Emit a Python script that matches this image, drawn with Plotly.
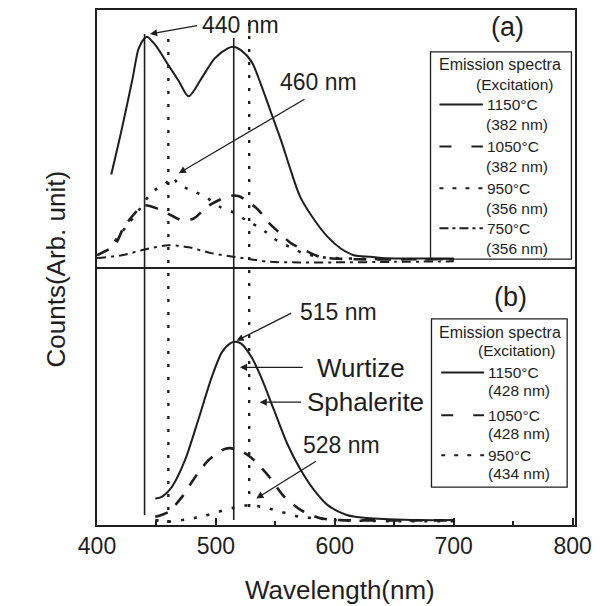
import plotly.graph_objects as go

# ---------------- data ----------------
# Panel (a) emission spectra
wl_a_1150 = [412, 421, 430, 435, 440, 442, 449, 460, 469, 477, 488, 499, 510, 515, 521, 530, 538, 546, 555, 563, 571, 583, 594, 605, 616, 630, 644, 672, 700]
a_1150 = [36, 54, 73.5, 85, 89, 89.6, 86.4, 78.6, 72.2, 66.4, 73.5, 81.2, 85.1, 85.7, 84.4, 79.9, 70.9, 60.6, 49, 37.5, 27.2, 18.2, 11.7, 7.2, 4.6, 4.0, 3.4, 3.3, 3.3]

wl_a_1050 = [400, 415, 422, 434, 440, 451, 460, 470, 481, 492, 499, 510, 515, 520, 533, 538, 545, 553, 563, 573, 587, 596, 620, 660, 700]
a_1050 = [4.6, 8.5, 15, 22, 24, 22.7, 20.7, 18.4, 18.8, 23.3, 25.2, 27.5, 27.8, 27.4, 23.3, 21, 17, 13.5, 9.3, 6.9, 4.0, 3.4, 3.0, 3.0, 3.0]

wl_a_950 = [415, 425, 435, 446, 458, 463, 469, 481, 492, 503, 516, 526, 538, 549, 562, 574, 590, 620, 660, 700]
a_950 = [10, 16, 22, 29, 32.5, 35, 32, 29.5, 27, 23.5, 21, 18, 15, 11, 7.8, 5.3, 3.8, 3.2, 3.0, 3.0]

wl_a_750 = [400, 421, 441, 460, 477, 496, 516, 533, 546, 570, 600, 650, 700]
a_750 = [3.5, 4.6, 6.9, 8.5, 7.7, 5.4, 3.9, 2.7, 2.0, 1.8, 1.8, 2.0, 2.2]

# Panel (b) emission spectra
wl_b_1150 = [449, 453.5, 463, 474, 485, 496.5, 505, 512, 516, 521.5, 530, 538, 549, 560, 571.5, 582.6, 594, 610, 630, 672, 700]
b_1150 = [10.3, 10.7, 14.8, 25.1, 40.5, 57.3, 66.9, 70.4, 71, 70.2, 65, 57.3, 44.4, 31.5, 21.2, 13.5, 7.7, 3.9, 2.6, 1.9, 1.9]

wl_b_1050 = [449, 460, 471.5, 482.6, 493.75, 505, 511, 520, 530, 545, 557.6, 571.5, 588, 605, 650, 700]
b_1050 = [3.2, 5.1, 10.9, 18.6, 25.1, 29, 29.8, 29, 26, 18.6, 10.9, 5.8, 2.6, 1.9, 1.8, 1.8]

wl_b_950 = [449, 460, 476, 490, 502, 516, 529, 544, 555, 570, 585, 602, 650, 700]
b_950 = [1.9, 1.3, 2.2, 3.5, 5.1, 6.8, 7.7, 6.4, 5.1, 3.2, 2.6, 1.9, 1.5, 1.5]

# Legend labels
legend_a_temps = ["1150°C", "1050°C", "950°C", "750°C"]
legend_a_exc = ["(382 nm)", "(382 nm)", "(356 nm)", "(356 nm)"]
legend_b_temps = ["1150°C", "1050°C", "950°C"]
legend_b_exc = ["(428 nm)", "(428 nm)", "(434 nm)"]

# Reference wavelengths (vertical marker lines)
ref_solid = [440, 515]
ref_dotted = [460, 528]

x_ticks = [400, 500, 600, 700, 800]

# ---------------- styling ----------------
INK = "#1e1e1e"
FONT = "Liberation Sans, Arial, sans-serif"
LEG = 15.5
curve_style = {
    "1150°C": dict(dash="solid", width=2.0),
    "1050°C": dict(dash="13px,11px", width=2.6),
    "950°C": dict(dash="3px,10px", width=2.6),
    "750°C": dict(dash="9px,5px,3px,5px", width=2.0),
}
sample_dash = {
    "1150°C": "solid",
    "1050°C": "12px,20px",
    "950°C": "4px,9px",
    "750°C": "9px,4px,3px,4px",
}

fig = go.Figure()

series_a = [(legend_a_temps[0], wl_a_1150, a_1150), (legend_a_temps[1], wl_a_1050, a_1050),
            (legend_a_temps[2], wl_a_950, a_950), (legend_a_temps[3], wl_a_750, a_750)]
series_b = [(legend_b_temps[0], wl_b_1150, b_1150), (legend_b_temps[1], wl_b_1050, b_1050),
            (legend_b_temps[2], wl_b_950, b_950)]

for name, xs, ys in series_a:
    fig.add_trace(go.Scatter(x=xs, y=ys, mode="lines", name=name, showlegend=False,
                             line=dict(color=INK, shape="spline", smoothing=0.8, **curve_style[name]),
                             xaxis="x", yaxis="y"))
for name, xs, ys in series_b:
    fig.add_trace(go.Scatter(x=xs, y=ys, mode="lines", name=name, showlegend=False,
                             line=dict(color=INK, shape="spline", smoothing=0.8, **curve_style[name]),
                             xaxis="x2", yaxis="y2"))

# ---------------- layout geometry ----------------
H = 606
TOP, BOT = 8, 525          # plot area in px
MID = 266                  # divider in px


def pp(py):
    """pixel y -> paper y"""
    return (BOT - py) / (BOT - TOP)


split = pp(MID)

shapes = []
# vertical reference lines spanning both panels
ref_extent = {440: (32, 515), 515: (36, 520), 460: (32, 523), 528: (19, 507)}
for w in ref_solid:
    t, b = ref_extent[w]
    shapes.append(dict(type="line", xref="x", yref="paper", x0=w, x1=w, y0=pp(b), y1=pp(t),
                       line=dict(color=INK, width=1.6)))
for w in ref_dotted:
    t, b = ref_extent[w]
    shapes.append(dict(type="line", xref="x", yref="paper", x0=w, x1=w, y0=pp(b), y1=pp(t),
                       line=dict(color=INK, width=2.4, dash="3px,10px")))

annotations = []

# ---- legend (a) ----
shapes.append(dict(type="rect", xref="x", yref="y", x0=680.5, x1=799.0, y0=3.1, y1=83.7,
                   line=dict(color=INK, width=1.3), fillcolor="rgba(255,255,255,0)"))
annotations.append(dict(x=739, y=78.7, xref="x", yref="y", text="Emission spectra", showarrow=False,
                        font=dict(size=16, color=INK, family=FONT), xanchor="center", yanchor="middle"))
annotations.append(dict(x=786, y=70.9, xref="x", yref="y", text="(Excitation)", showarrow=False,
                        font=dict(size=LEG, color=INK, family=FONT), xanchor="right", yanchor="middle"))
rows_a = [63.2, 46.9, 30.6, 15.1]
for i, (t, e) in enumerate(zip(legend_a_temps, legend_a_exc)):
    yv = rows_a[i]
    shapes.append(dict(type="line", xref="x", yref="y", x0=688, x1=724.5, y0=yv, y1=yv,
                       line=dict(color=INK, width=2, dash=sample_dash[t])))
    annotations.append(dict(x=726, y=yv, xref="x", yref="y", text=t, showarrow=False,
                            font=dict(size=LEG, color=INK, family=FONT), xanchor="left", yanchor="middle"))
    annotations.append(dict(x=725.5, y=yv - 7.8, xref="x", yref="y", text=e, showarrow=False,
                            font=dict(size=LEG, color=INK, family=FONT), xanchor="left", yanchor="middle"))

# ---- legend (b) ----
shapes.append(dict(type="rect", xref="x2", yref="y2", x0=681.3, x1=795.4, y0=14.7, y1=79.9,
                   line=dict(color=INK, width=1.3), fillcolor="rgba(255,255,255,0)"))
annotations.append(dict(x=739, y=74.5, xref="x2", yref="y2", text="Emission spectra", showarrow=False,
                        font=dict(size=16, color=INK, family=FONT), xanchor="center", yanchor="middle"))
annotations.append(dict(x=787.5, y=67.6, xref="x2", yref="y2", text="(Excitation)", showarrow=False,
                        font=dict(size=LEG, color=INK, family=FONT), xanchor="right", yanchor="middle"))
rows_b = [59.1, 42.5, 27.0]
for i, (t, e) in enumerate(zip(legend_b_temps, legend_b_exc)):
    yv = rows_b[i]
    shapes.append(dict(type="line", xref="x2", yref="y2", x0=689.5, x1=725.5, y0=yv, y1=yv,
                       line=dict(color=INK, width=2, dash=sample_dash[t])))
    annotations.append(dict(x=727, y=yv, xref="x2", yref="y2", text=t, showarrow=False,
                            font=dict(size=LEG, color=INK, family=FONT), xanchor="left", yanchor="middle"))
    annotations.append(dict(x=727, y=yv - 7.0, xref="x2", yref="y2", text=e, showarrow=False,
                            font=dict(size=LEG, color=INK, family=FONT), xanchor="left", yanchor="middle"))

# ---- panel labels ----
annotations.append(dict(x=745.5, y=93.4, xref="x", yref="y", text="(a)", showarrow=False,
                        font=dict(size=27, color=INK, family=FONT), xanchor="center", yanchor="middle"))
annotations.append(dict(x=748, y=88.4, xref="x2", yref="y2", text="(b)", showarrow=False,
                        font=dict(size=27, color=INK, family=FONT), xanchor="center", yanchor="middle"))

# ---- peak labels and arrows ----
def label(x, y, text, xr, yr, size=23):
    annotations.append(dict(x=x, y=y, xref=xr, yref=yr, text=text, showarrow=False,
                            font=dict(size=size, color=INK, family=FONT), xanchor="left", yanchor="middle"))


def arrow(x0, y0, x1, y1, xr, yr, head=2):
    annotations.append(dict(x=x1, y=y1, ax=x0, ay=y0, xref=xr, yref=yr, axref=xr, ayref=yr, text="",
                            showarrow=True, arrowhead=head, arrowsize=1.1, arrowwidth=1.3,
                            arrowcolor=INK, standoff=0, startstandoff=0))


label(486.8, 94.2, "440 nm", "x", "y")
arrow(485.4, 94.0, 444.6, 90.7, "x", "y")
label(552.0, 72.1, "460 nm", "x", "y")
arrow(575.7, 65.6, 468.75, 36.5, "x", "y")

label(568.75, 82.6, "515 nm", "x2", "y2")
arrow(564.6, 82.4, 517.3, 71.4, "x2", "y2")
label(583.5, 61.0, "Wurtize", "x2", "y2", size=26)
arrow(574.3, 61.1, 520.2, 61.1, "x2", "y2")
label(575.0, 47.5, "Sphalerite", "x2", "y2", size=26)
arrow(572.9, 47.6, 536.8, 47.6, "x2", "y2")
label(571.25, 31.1, "528 nm", "x2", "y2")
arrow(585.4, 25.1, 534.0, 10.3, "x2", "y2")

# ---- axis titles ----
annotations.append(dict(x=(56 - 97) / 483, y=pp(268), xref="paper", yref="paper", text="Counts(Arb. unit)",
                        showarrow=False, textangle=-90, font=dict(size=26, color=INK, family=FONT),
                        xanchor="center", yanchor="middle"))
annotations.append(dict(x=(343 - 97) / 483, y=pp(590), xref="paper", yref="paper", text="Wavelength(nm)",
                        showarrow=False, font=dict(size=26, color=INK, family=FONT),
                        xanchor="center", yanchor="middle"))

base_axis = dict(showgrid=False, zeroline=False, showline=True, linecolor=INK, linewidth=1.5)

fig.update_layout(
    width=600, height=H,
    margin=dict(l=97, r=20, t=TOP, b=H - BOT),
    paper_bgcolor="white", plot_bgcolor="white",
    showlegend=False,
    xaxis=dict(domain=[0, 1], range=[400, 802], anchor="y", showticklabels=False, ticks="",
               mirror=True, **base_axis),
    yaxis=dict(domain=[split, 1], range=[0, 100], anchor="x", showticklabels=False, ticks="",
               mirror=True, **base_axis),
    xaxis2=dict(domain=[0, 1], range=[400, 802], anchor="y2", tickvals=x_ticks, ticks="inside",
                ticklen=7, tickwidth=1.5, tickcolor=INK, mirror=False,
                minor=dict(dtick=50, tick0=400, ticks="inside", ticklen=4, tickwidth=1.5, tickcolor=INK),
                tickfont=dict(size=23, color=INK, family=FONT), **base_axis),
    yaxis2=dict(domain=[0, split], range=[0, 100], anchor="x2", showticklabels=False, ticks="",
                mirror=True, **base_axis),
    shapes=shapes,
    annotations=annotations,
)

fig.write_html("out.html")
